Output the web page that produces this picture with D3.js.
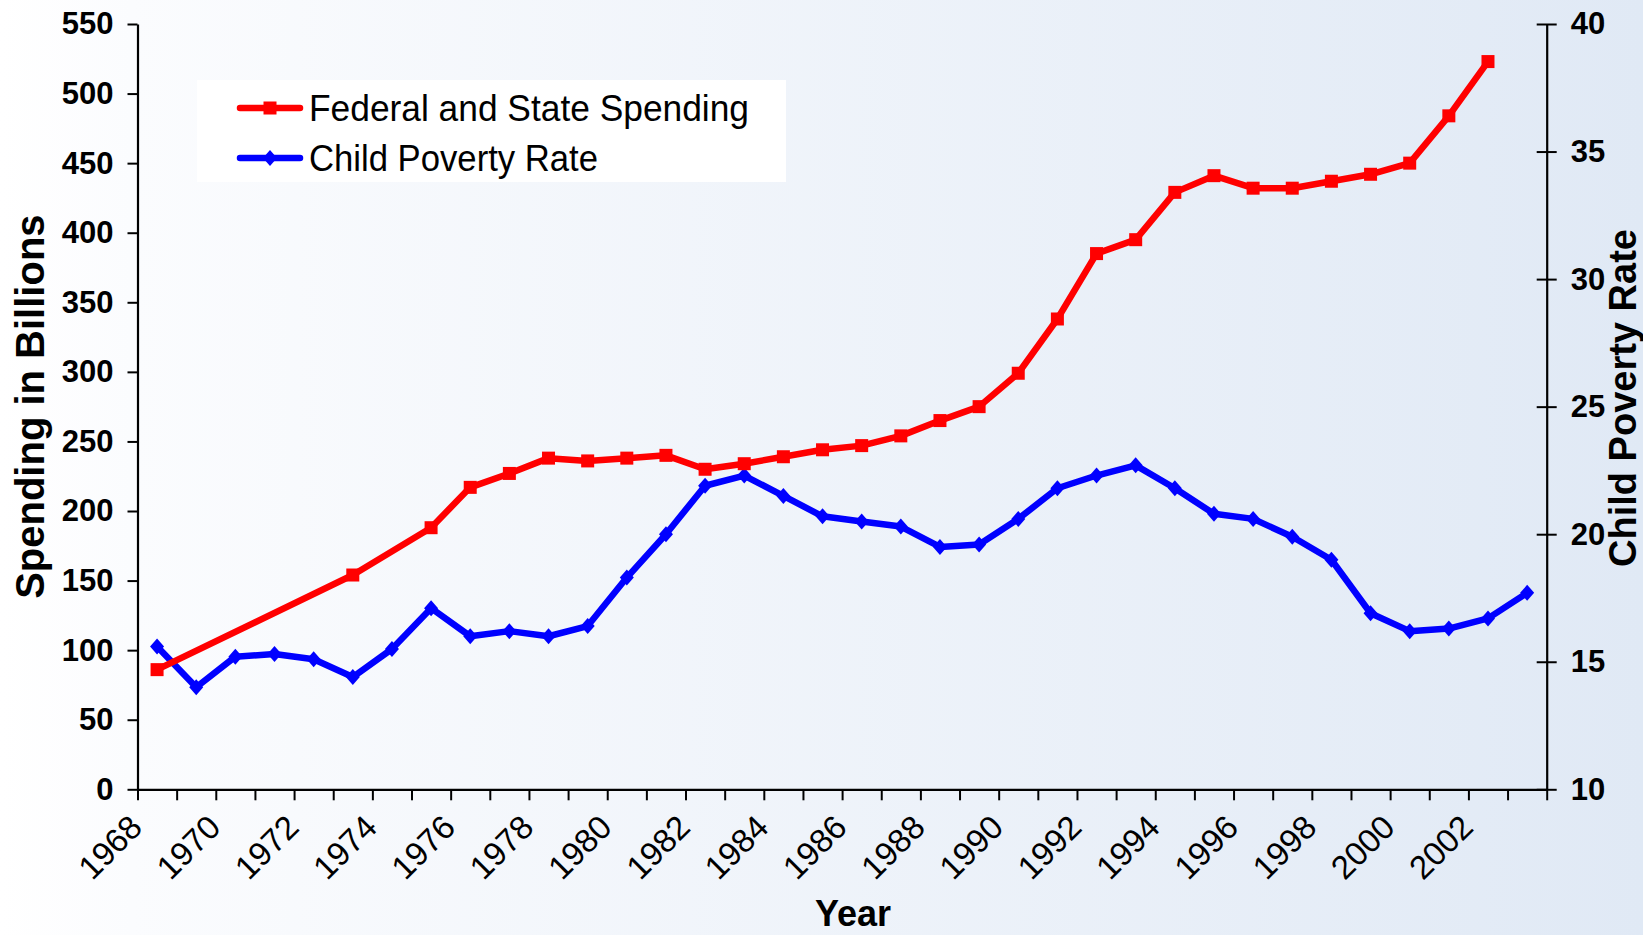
<!DOCTYPE html>
<html>
<head>
<meta charset="utf-8">
<script src="https://cdn.jsdelivr.net/npm/d3@7"></script>
<style>
  body { margin: 0; padding: 0; overflow: hidden; }
  text { font-family: "Liberation Sans", Arial, sans-serif; }
</style>
</head>
<body>
<div id="myChart"></div>
<script>

// Data
var years = [1968, 1969, 1970, 1971, 1972, 1973, 1974, 1975, 1976, 1977, 1978, 1979,
             1980, 1981, 1982, 1983, 1984, 1985, 1986, 1987, 1988, 1989, 1990, 1991,
             1992, 1993, 1994, 1995, 1996, 1997, 1998, 1999, 2000, 2001, 2002, 2003];

// Federal and State Spending (billions), null = no value that year
var spending = [86, null, null, null, null, 154, null, 188, 217, 227, 238, 236,
                238, 240, 230, 234, 239, 244, 247, 254, 265, 275, 299, 338,
                385, 395, 429, 441, 432, 432, 437, 442, 450, 484, 523, null];

// Child Poverty Rate (percent)
var poverty = [15.6, 14.0, 15.2, 15.3, 15.1, 14.4, 15.5, 17.1, 16.0, 16.2, 16.0, 16.4,
               18.3, 20.0, 21.9, 22.3, 21.5, 20.7, 20.5, 20.3, 19.5, 19.6, 20.6, 21.8,
               22.3, 22.7, 21.8, 20.8, 20.6, 19.9, 19.0, 16.9, 16.2, 16.3, 16.7, 17.7];

var leftTicks = [0, 50, 100, 150, 200, 250, 300, 350, 400, 450, 500, 550];
var rightTicks = [10, 15, 20, 25, 30, 35, 40];
var xLabels = [1968, 1970, 1972, 1974, 1976, 1978, 1980, 1982, 1984, 1986,
               1988, 1990, 1992, 1994, 1996, 1998, 2000, 2002];

var seriesNames = ["Federal and State Spending", "Child Poverty Rate"];


// Main svg window sizes
var width = 1643;
var height = 935;

var plot = {left: 137.5, right: 1546.7, top: 24, bottom: 789.3};

var svg = d3.select("#myChart")
	.append("svg")
	.attr("width", width)
	.attr("height", height);

// background gradient, white to pale blue
var grad = svg.append("defs").append("linearGradient")
	.attr("id", "bg")
	.attr("x1", "0%").attr("x2", "100%")
	.attr("y1", "0%").attr("y2", "0%");
grad.append("stop").attr("offset", "0%").attr("stop-color", "#ffffff");
grad.append("stop").attr("offset", "8%").attr("stop-color", "#fbfcfe");
grad.append("stop").attr("offset", "100%").attr("stop-color", "#e0e9f5");

svg.append("rect")
	.attr("width", width)
	.attr("height", height)
	.attr("fill", "url(#bg)");


// Scales
var xScale = d3.scaleBand()
	.domain(years)
	.range([plot.left, plot.right])
	.padding(0);

// boundaries between categories, for the tick marks
var xEdge = d3.scaleLinear()
	.domain([0, years.length])
	.range([plot.left, plot.right]);

var yLeft = d3.scaleLinear()
	.domain([0, 550])
	.range([plot.bottom, plot.top]);

var yRight = d3.scaleLinear()
	.domain([10, 40])
	.range([plot.bottom, plot.top]);

function cx(i) { return xScale(years[i]) + xScale.bandwidth() / 2; }


// Left axis
var leftAxis = svg.append("g")
	.attr("transform", "translate(" + plot.left + ",0)")
	.call(d3.axisLeft(yLeft).tickValues(leftTicks).tickSize(10).tickSizeOuter(0).tickPadding(14));

// Right axis, ticks cross the line
var rightAxis = svg.append("g")
	.attr("transform", "translate(" + plot.right + ",0)")
	.call(d3.axisRight(yRight).tickValues(rightTicks).tickSize(10).tickSizeOuter(0).tickPadding(14));
rightAxis.selectAll(".tick line").attr("x1", -10);

// Bottom axis, ticks on category edges
var bottomAxis = svg.append("g")
	.attr("transform", "translate(0," + plot.bottom + ")")
	.call(d3.axisBottom(xEdge).tickValues(d3.range(0, years.length + 1)).tickSize(11).tickSizeOuter(0).tickFormat(""));

[leftAxis, rightAxis, bottomAxis].forEach(function(a) {
	a.select(".domain").attr("stroke", "#000").attr("stroke-width", 2.2);
	a.selectAll(".tick line").attr("stroke", "#000").attr("stroke-width", 2);
});

leftAxis.selectAll(".tick text")
	.style("font-family", "'Liberation Sans', Arial, sans-serif")
	.style("font-size", "31px")
	.style("font-weight", "bold")
	.attr("fill", "#000");
rightAxis.selectAll(".tick text")
	.style("font-family", "'Liberation Sans', Arial, sans-serif")
	.style("font-size", "31px")
	.style("font-weight", "bold")
	.attr("fill", "#000");

// rotated year labels, every second year
svg.append("g").selectAll("text")
	.data(xLabels)
	.enter()
	.append("text")
	.attr("transform", function(d) {
		var x = xScale(d) + xScale.bandwidth() / 2 - 13;
		var y = plot.bottom + 40;
		return "translate(" + x + "," + y + ") rotate(-45)";
	})
	.attr("text-anchor", "end")
	.style("font-size", "33px")
	.text(function(d) { return d; });


// Axis titles
svg.append("text")
	.attr("transform", "translate(44," + ((plot.top + plot.bottom) / 2) + ") rotate(-90)")
	.attr("text-anchor", "middle")
	.style("font-size", "40px")
	.style("font-weight", "bold")
	.text("Spending in Billions");

svg.append("text")
	.attr("transform", "translate(1636,398) rotate(-90)")
	.attr("text-anchor", "middle")
	.style("font-size", "38px")
	.style("font-weight", "bold")
	.text("Child Poverty Rate");

svg.append("text")
	.attr("x", 853)
	.attr("y", 926)
	.attr("text-anchor", "middle")
	.style("font-size", "36px")
	.style("font-weight", "bold")
	.text("Year");


// Lines
var spendPts = [];
for (var i = 0; i < years.length; i++) {
	if (spending[i] !== null) spendPts.push({i: i, v: spending[i]});
}
var povPts = poverty.map(function(v, i) { return {i: i, v: v}; });

var spendLine = d3.line()
	.x(function(d) { return cx(d.i); })
	.y(function(d) { return yLeft(d.v); });

var povLine = d3.line()
	.x(function(d) { return cx(d.i); })
	.y(function(d) { return yRight(d.v); });

var diamond = "M0,-8L7,0L0,8L-7,0Z";

svg.append("path")
	.attr("d", povLine(povPts))
	.attr("fill", "none")
	.attr("stroke", "#0000ff")
	.attr("stroke-width", 6.5)
	.attr("stroke-linejoin", "round");

svg.append("g").selectAll("path")
	.data(povPts)
	.enter()
	.append("path")
	.attr("d", diamond)
	.attr("transform", function(d) { return "translate(" + cx(d.i) + "," + yRight(d.v) + ")"; })
	.attr("fill", "#0000ff");

svg.append("path")
	.attr("d", spendLine(spendPts))
	.attr("fill", "none")
	.attr("stroke", "#ff0000")
	.attr("stroke-width", 6.5)
	.attr("stroke-linejoin", "round");

svg.append("g").selectAll("rect")
	.data(spendPts)
	.enter()
	.append("rect")
	.attr("x", function(d) { return cx(d.i) - 6.5; })
	.attr("y", function(d) { return yLeft(d.v) - 6.5; })
	.attr("width", 13)
	.attr("height", 13)
	.attr("fill", "#ff0000");


// Legend
var legend = svg.append("g");
legend.append("rect")
	.attr("x", 197)
	.attr("y", 80)
	.attr("width", 589)
	.attr("height", 102)
	.attr("fill", "#ffffff");

var legendColors = ["#ff0000", "#0000ff"];
var legendWidths = [440, 289];
seriesNames.forEach(function(name, k) {
	var ly = 108 + k * 50;
	legend.append("line")
		.attr("x1", 240).attr("x2", 300)
		.attr("y1", ly).attr("y2", ly)
		.attr("stroke", legendColors[k])
		.attr("stroke-width", 6.5)
		.attr("stroke-linecap", "round");
	if (k == 0) {
		legend.append("rect")
			.attr("x", 270 - 6.5).attr("y", ly - 6.5)
			.attr("width", 13).attr("height", 13)
			.attr("fill", legendColors[k]);
	} else {
		legend.append("path")
			.attr("d", diamond)
			.attr("transform", "translate(270," + ly + ")")
			.attr("fill", legendColors[k]);
	}
	legend.append("text")
		.attr("x", 309)
		.attr("y", ly + 13)
		.attr("textLength", legendWidths[k])
		.attr("lengthAdjust", "spacingAndGlyphs")
		.style("font-size", "36px")
		.text(name);
});

</script>
</body>
</html>
